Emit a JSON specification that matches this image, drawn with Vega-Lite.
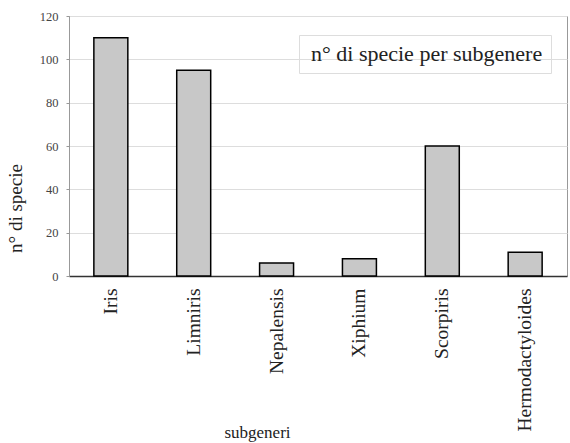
{
  "$schema": "https://vega.github.io/schema/vega-lite/v6.json",
  "width": 498,
  "height": 260,
  "autosize": "none",
  "padding": {"left": 69, "top": 16, "right": 3, "bottom": 167},
  "background": "white",
  "config": {
    "font": "Liberation Serif",
    "view": {"stroke": "#999999", "strokeWidth": 1}
  },
  "data": {
    "values": [
      {"subgenere": "Iris", "specie": 110, "serie": "n° di specie per subgenere"},
      {"subgenere": "Limniris", "specie": 95, "serie": "n° di specie per subgenere"},
      {"subgenere": "Nepalensis", "specie": 6, "serie": "n° di specie per subgenere"},
      {"subgenere": "Xiphium", "specie": 8, "serie": "n° di specie per subgenere"},
      {"subgenere": "Scorpiris", "specie": 60, "serie": "n° di specie per subgenere"},
      {"subgenere": "Hermodactyloides", "specie": 11, "serie": "n° di specie per subgenere"}
    ]
  },
  "mark": {"type": "bar", "stroke": "black", "strokeWidth": 1.5},
  "encoding": {
    "x": {
      "field": "subgenere",
      "type": "nominal",
      "sort": null,
      "scale": {"paddingInner": 0.59, "paddingOuter": 0.3},
      "axis": {
        "title": "subgeneri",
        "titleFontSize": 17,
        "titleFontWeight": "normal",
        "titleColor": "#222",
        "titleX": 188,
        "titleY": 148,
        "labelAngle": -90,
        "labelFontSize": 19.5,
        "labelColor": "#222",
        "labelPadding": 12,
        "ticks": false,
        "domainColor": "#333",
        "domainWidth": 1.5
      }
    },
    "y": {
      "field": "specie",
      "type": "quantitative",
      "scale": {"domain": [0, 120], "nice": false},
      "axis": {
        "title": "n° di specie",
        "titleFontSize": 19,
        "titleFontWeight": "normal",
        "titleColor": "#222",
        "titleX": -44,
        "titleY": 192,
        "values": [0, 20, 40, 60, 80, 100, 120],
        "labelFontSize": 12.5,
        "labelColor": "#444",
        "labelPadding": 8,
        "tickSize": 3,
        "tickColor": "#999",
        "gridColor": "#dddddd",
        "domainColor": "#999"
      }
    },
    "color": {
      "field": "serie",
      "type": "nominal",
      "scale": {"range": ["#c8c8c8"]},
      "legend": {
        "title": null,
        "orient": "none",
        "legendX": 230,
        "legendY": 19,
        "symbolSize": 0,
        "symbolOpacity": 0,
        "symbolStrokeWidth": 0,
        "labelFontSize": 22,
        "labelColor": "#222",
        "labelOffset": -18,
        "padding": 8,
        "strokeColor": "#dddddd",
        "labelLimit": 400
      }
    }
  }
}
